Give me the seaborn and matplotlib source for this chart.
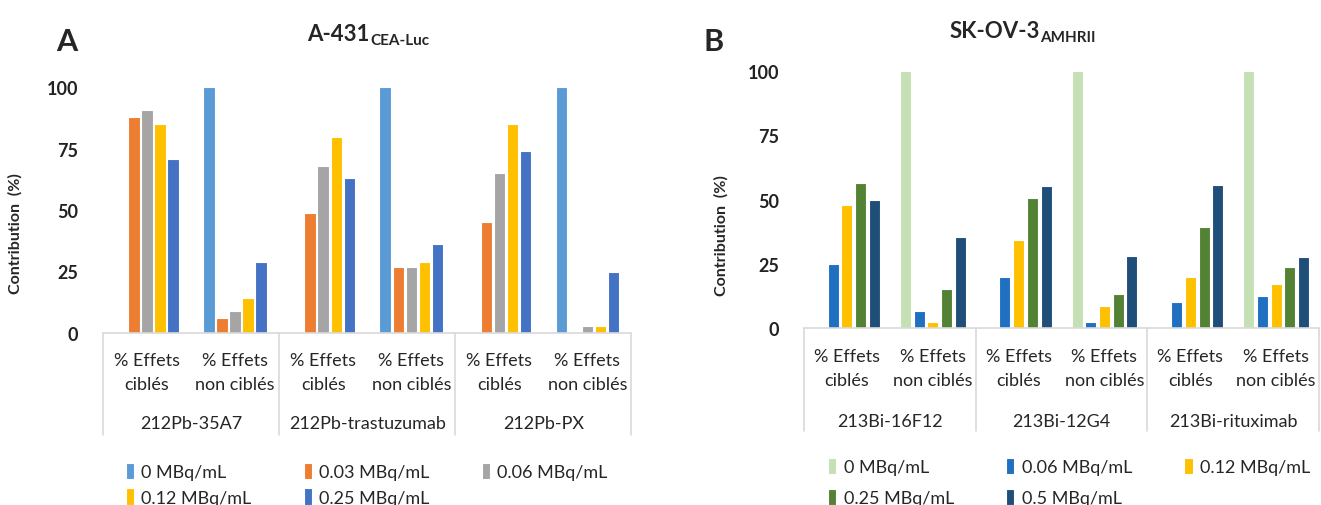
import matplotlib
matplotlib.use('Agg')
import matplotlib.pyplot as plt
import seaborn as sns
import pandas as pd
import numpy as np

# ---- data ----
effects = ['% Effets\nciblés', '% Effets\nnon ciblés']

groups_a = ['212Pb-35A7', '212Pb-trastuzumab', '212Pb-PX']
doses_a = ['0 MBq/mL', '0.03 MBq/mL', '0.06 MBq/mL', '0.12 MBq/mL', '0.25 MBq/mL']
colors_a = ['#5B9BD5', '#ED7D31', '#A5A5A5', '#FFC000', '#4472C4']
a_0 = [0, 100, 0, 100, 0, 100]
a_003 = [87.8, 6.1, 48.6, 26.7, 45.2, 0]
a_006 = [90.5, 9.1, 67.8, 26.7, 65.0, 2.7]
a_012 = [85.0, 14.3, 79.6, 28.7, 85.0, 2.7]
a_025 = [70.6, 28.8, 63.0, 36.3, 74.0, 24.8]

groups_b = ['213Bi-16F12', '213Bi-12G4', '213Bi-rituximab']
doses_b = ['0 MBq/mL', '0.06 MBq/mL', '0.12 MBq/mL', '0.25 MBq/mL', '0.5 MBq/mL']
colors_b = ['#C5E0B4', '#1F70C1', '#FFC000', '#548235', '#1F4E79']
b_0 = [0, 100, 0, 100, 0, 100]
b_006 = [25.1, 6.9, 19.8, 2.3, 10.1, 12.7]
b_012 = [48.0, 2.3, 34.2, 8.8, 19.8, 17.2]
b_025 = [56.4, 15.4, 50.5, 13.3, 39.5, 23.8]
b_05 = [49.9, 35.4, 55.1, 28.3, 55.8, 27.7]

sns.set_style('white')
plt.rcParams['font.family'] = ['Lato', 'DejaVu Sans']
FS = 13


def make_df(groups, doses, series):
    rows = []
    for dose, vals in zip(doses, series):
        for i, v in enumerate(vals):
            g = groups[i // 2]
            rows.append({'cat': g + '|' + effects[i % 2], 'dose': dose, 'val': v})
    return pd.DataFrame(rows)


def draw_panel(ax, df, doses, colors, groups, width, gap, depth, grp_y):
    sns.barplot(data=df, x='cat', y='val', hue='dose', hue_order=doses,
                palette=colors, width=width, gap=gap, edgecolor='white',
                linewidth=0.8, saturation=1, ax=ax, errorbar=None)
    ax.set_ylim(0, 100)
    ax.set_xlim(-0.5, 5.5)
    ax.set_yticks([0, 25, 50, 75, 100])
    ax.tick_params(axis='y', labelsize=FS, length=0, pad=18)
    for t in ax.get_yticklabels():
        t.set_fontweight('bold')
        t.set_color('#222222')
    ax.set_xticks(range(6))
    ax.set_xticklabels(effects * 3, fontsize=FS, linespacing=1.6)
    ax.tick_params(axis='x', length=0, pad=14)
    ax.set_xlabel('')
    for s in ax.spines.values():
        s.set_visible(False)
    trans = ax.get_xaxis_transform()
    ax.plot([-0.5, 5.5], [0, 0], color='#D9D9D9', lw=1.2, transform=trans,
            clip_on=False, zorder=5)
    for xb in [-0.5, 1.5, 3.5, 5.5]:
        ax.plot([xb, xb], [0, -depth], color='#D9D9D9', lw=1.2,
                transform=trans, clip_on=False)
    for k, g in enumerate(groups):
        ax.text(2 * k + 0.5, grp_y, g, transform=trans, ha='center',
                va='center', fontsize=FS)
    handles, labels = ax.get_legend_handles_labels()
    ax.get_legend().remove()
    return handles, labels


fig = plt.figure(figsize=(13.21, 5.06), dpi=100)
ax_a = fig.add_axes([0.078, 0.340, 0.400, 0.486])
ax_b = fig.add_axes([0.6086, 0.349, 0.390, 0.509])

df_a = make_df(groups_a, doses_a, [a_0, a_003, a_006, a_012, a_025])
df_b = make_df(groups_b, doses_b, [b_0, b_006, b_012, b_025, b_05])

h_a, l_a = draw_panel(ax_a, df_a, doses_a, colors_a, groups_a, 0.74, 0.12, 0.415, -0.365)
h_b, l_b = draw_panel(ax_b, df_b, doses_b, colors_b, groups_b, 0.80, 0.2, 0.40, -0.36)

for ax, lx, ly in [(ax_a, -0.153, 0.41), (ax_b, -0.147, 0.366)]:
    ax.set_ylabel('Contribution  (%)', fontsize=11.5, fontweight='bold')
    ax.yaxis.set_label_coords(lx, ly)

order = [0, 3, 1, 4, 2]
fig.legend([h_a[i] for i in order], [l_a[i] for i in order], ncol=3,
           loc='upper left', bbox_to_anchor=(0.083, 0.115), frameon=False,
           fontsize=FS, handlelength=0.45, handleheight=1.0,
           handletextpad=0.4, columnspacing=2.9, labelspacing=0.45)
fig.legend([h_b[i] for i in order], [l_b[i] for i in order], ncol=3,
           loc='upper left', bbox_to_anchor=(0.6147, 0.125), frameon=False,
           fontsize=FS, handlelength=0.45, handleheight=1.0,
           handletextpad=0.4, columnspacing=2.9, labelspacing=0.75)

# titles and panel letters
fig.text(370 / 1321, 1 - 41 / 506, 'A-431', ha='right', va='baseline',
         fontsize=16, fontweight='bold')
fig.text(370 / 1321, 1 - 45 / 506, 'CEA-Luc', ha='left', va='baseline',
         fontsize=11, fontweight='bold')
fig.text(1040 / 1321, 1 - 38 / 506, 'SK-OV-3', ha='right', va='baseline',
         fontsize=16, fontweight='bold')
fig.text(1040 / 1321, 1 - 42 / 506, 'AMHRII', ha='left', va='baseline',
         fontsize=11, fontweight='bold')
fig.text(56 / 1321, 1 - 51 / 506, 'A', ha='left', va='baseline',
         fontsize=22, fontweight='bold')
fig.text(703 / 1321, 1 - 51 / 506, 'B', ha='left', va='baseline',
         fontsize=22, fontweight='bold')

fig.savefig('out.png', dpi=100)
